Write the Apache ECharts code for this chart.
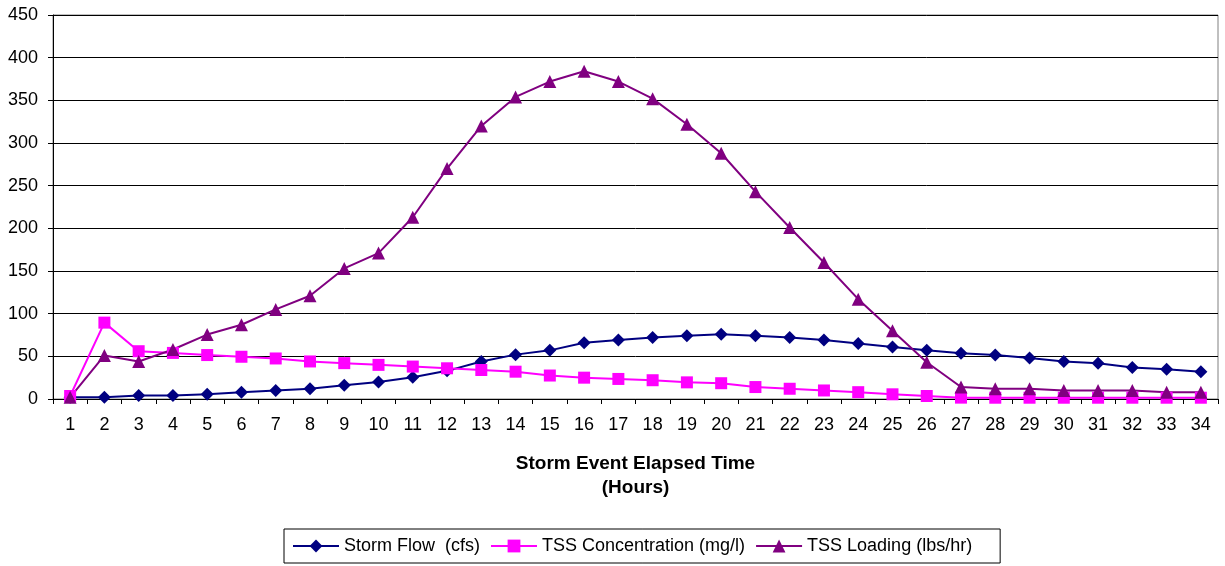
<!DOCTYPE html>
<html>
<head>
<meta charset="utf-8">
<script src="https://cdn.jsdelivr.net/npm/echarts@6/dist/echarts.min.js"></script>
<style>
  html, body { margin: 0; padding: 0; background: #fff; }
  #chart { width: 1225px; height: 566px; }
</style>
</head>
<body>
<div id="chart"></div>
<script>
// Elapsed hours of the storm event
const hours = Array.from({ length: 34 }, (_, i) => String(i + 1));

// Storm flow (cfs)
const stormFlow = [2, 2, 4, 4, 5.5, 8, 10, 12, 16, 20, 25.5, 33, 44, 52, 57, 66, 69, 72, 74, 76,
  74, 72, 69, 65, 61, 57, 53.5, 51.5, 48, 44, 42, 37, 35, 32];

// TSS concentration (mg/l)
const tssConc = [3.5, 89.5, 56, 54, 51.5, 49.5, 47.5, 44, 42, 40, 38, 36, 34, 32, 27.5, 25, 23.5, 22, 19.5, 18.5,
  14, 12, 10, 8, 5.5, 3.5, 1.6, 1.5, 1.5, 1.5, 1.5, 1.5, 1.5, 1.5];

// TSS loading (lbs/hr)
const tssLoad = [2, 51, 44, 58, 75.5, 87, 105, 121, 153, 171, 213, 270, 320, 354, 372, 384, 372, 352, 322, 288,
  243, 201, 160, 117, 80, 43, 14, 12, 12, 10, 10, 10, 8, 8];

// Value axis ticks
const yMin = 0, yMax = 450, yStep = 50;

const fontFamily = 'Liberation Sans, Arial, sans-serif';

const chart = echarts.init(document.getElementById('chart'), null, { renderer: 'canvas' });

chart.setOption({
  animation: false,
  backgroundColor: '#ffffff',
  textStyle: { fontFamily: fontFamily, color: '#000' },
  grid: {
    left: 53, right: 7, top: 15, bottom: 167,
    show: true,
    borderColor: '#808080',
    borderWidth: 1,
    containLabel: false
  },
  legend: {
    left: 284,
    top: 529,
    itemWidth: 46,
    itemHeight: 16,
    itemGap: 10,
    padding: [8, 28, 8, 8],
    borderColor: '#000',
    borderWidth: 1,
    textStyle: { fontFamily: fontFamily, fontSize: 18, color: '#000' },
    data: ['Storm Flow  (cfs)', 'TSS Concentration (mg/l)', 'TSS Loading (lbs/hr)']
  },
  xAxis: {
    type: 'category',
    data: hours,
    boundaryGap: true,
    name: 'Storm Event Elapsed Time\n(Hours)',
    nameLocation: 'middle',
    nameGap: 53,
    nameTextStyle: { fontFamily: fontFamily, fontSize: 19, fontWeight: 'bold', lineHeight: 24, color: '#000' },
    axisLine: { lineStyle: { color: '#000', width: 1 } },
    axisTick: { show: true, alignWithLabel: false, length: 5, lineStyle: { color: '#000' } },
    axisLabel: { fontFamily: fontFamily, fontSize: 18, color: '#000', margin: 17, interval: 0 },
    splitLine: { show: false }
  },
  yAxis: {
    type: 'value',
    min: yMin, max: yMax, interval: yStep,
    axisLine: { show: true, lineStyle: { color: '#000', width: 1 } },
    axisTick: { show: true, length: 5, lineStyle: { color: '#000' } },
    axisLabel: { fontFamily: fontFamily, fontSize: 18, color: '#000', margin: 15 },
    splitLine: { show: true, lineStyle: { color: '#000', width: 1 } }
  },
  series: [
    {
      name: 'Storm Flow  (cfs)',
      type: 'line',
      data: stormFlow,
      symbol: 'diamond',
      symbolSize: 13,
      itemStyle: { color: '#000080' },
      lineStyle: { color: '#000080', width: 2 }
    },
    {
      name: 'TSS Concentration (mg/l)',
      type: 'line',
      data: tssConc,
      symbol: 'rect',
      symbolSize: 12,
      itemStyle: { color: '#ff00ff' },
      lineStyle: { color: '#ff00ff', width: 2 }
    },
    {
      name: 'TSS Loading (lbs/hr)',
      type: 'line',
      data: tssLoad,
      symbol: 'triangle',
      symbolSize: 13,
      itemStyle: { color: '#800080' },
      lineStyle: { color: '#800080', width: 2 }
    }
  ]
});
</script>
</body>
</html>
